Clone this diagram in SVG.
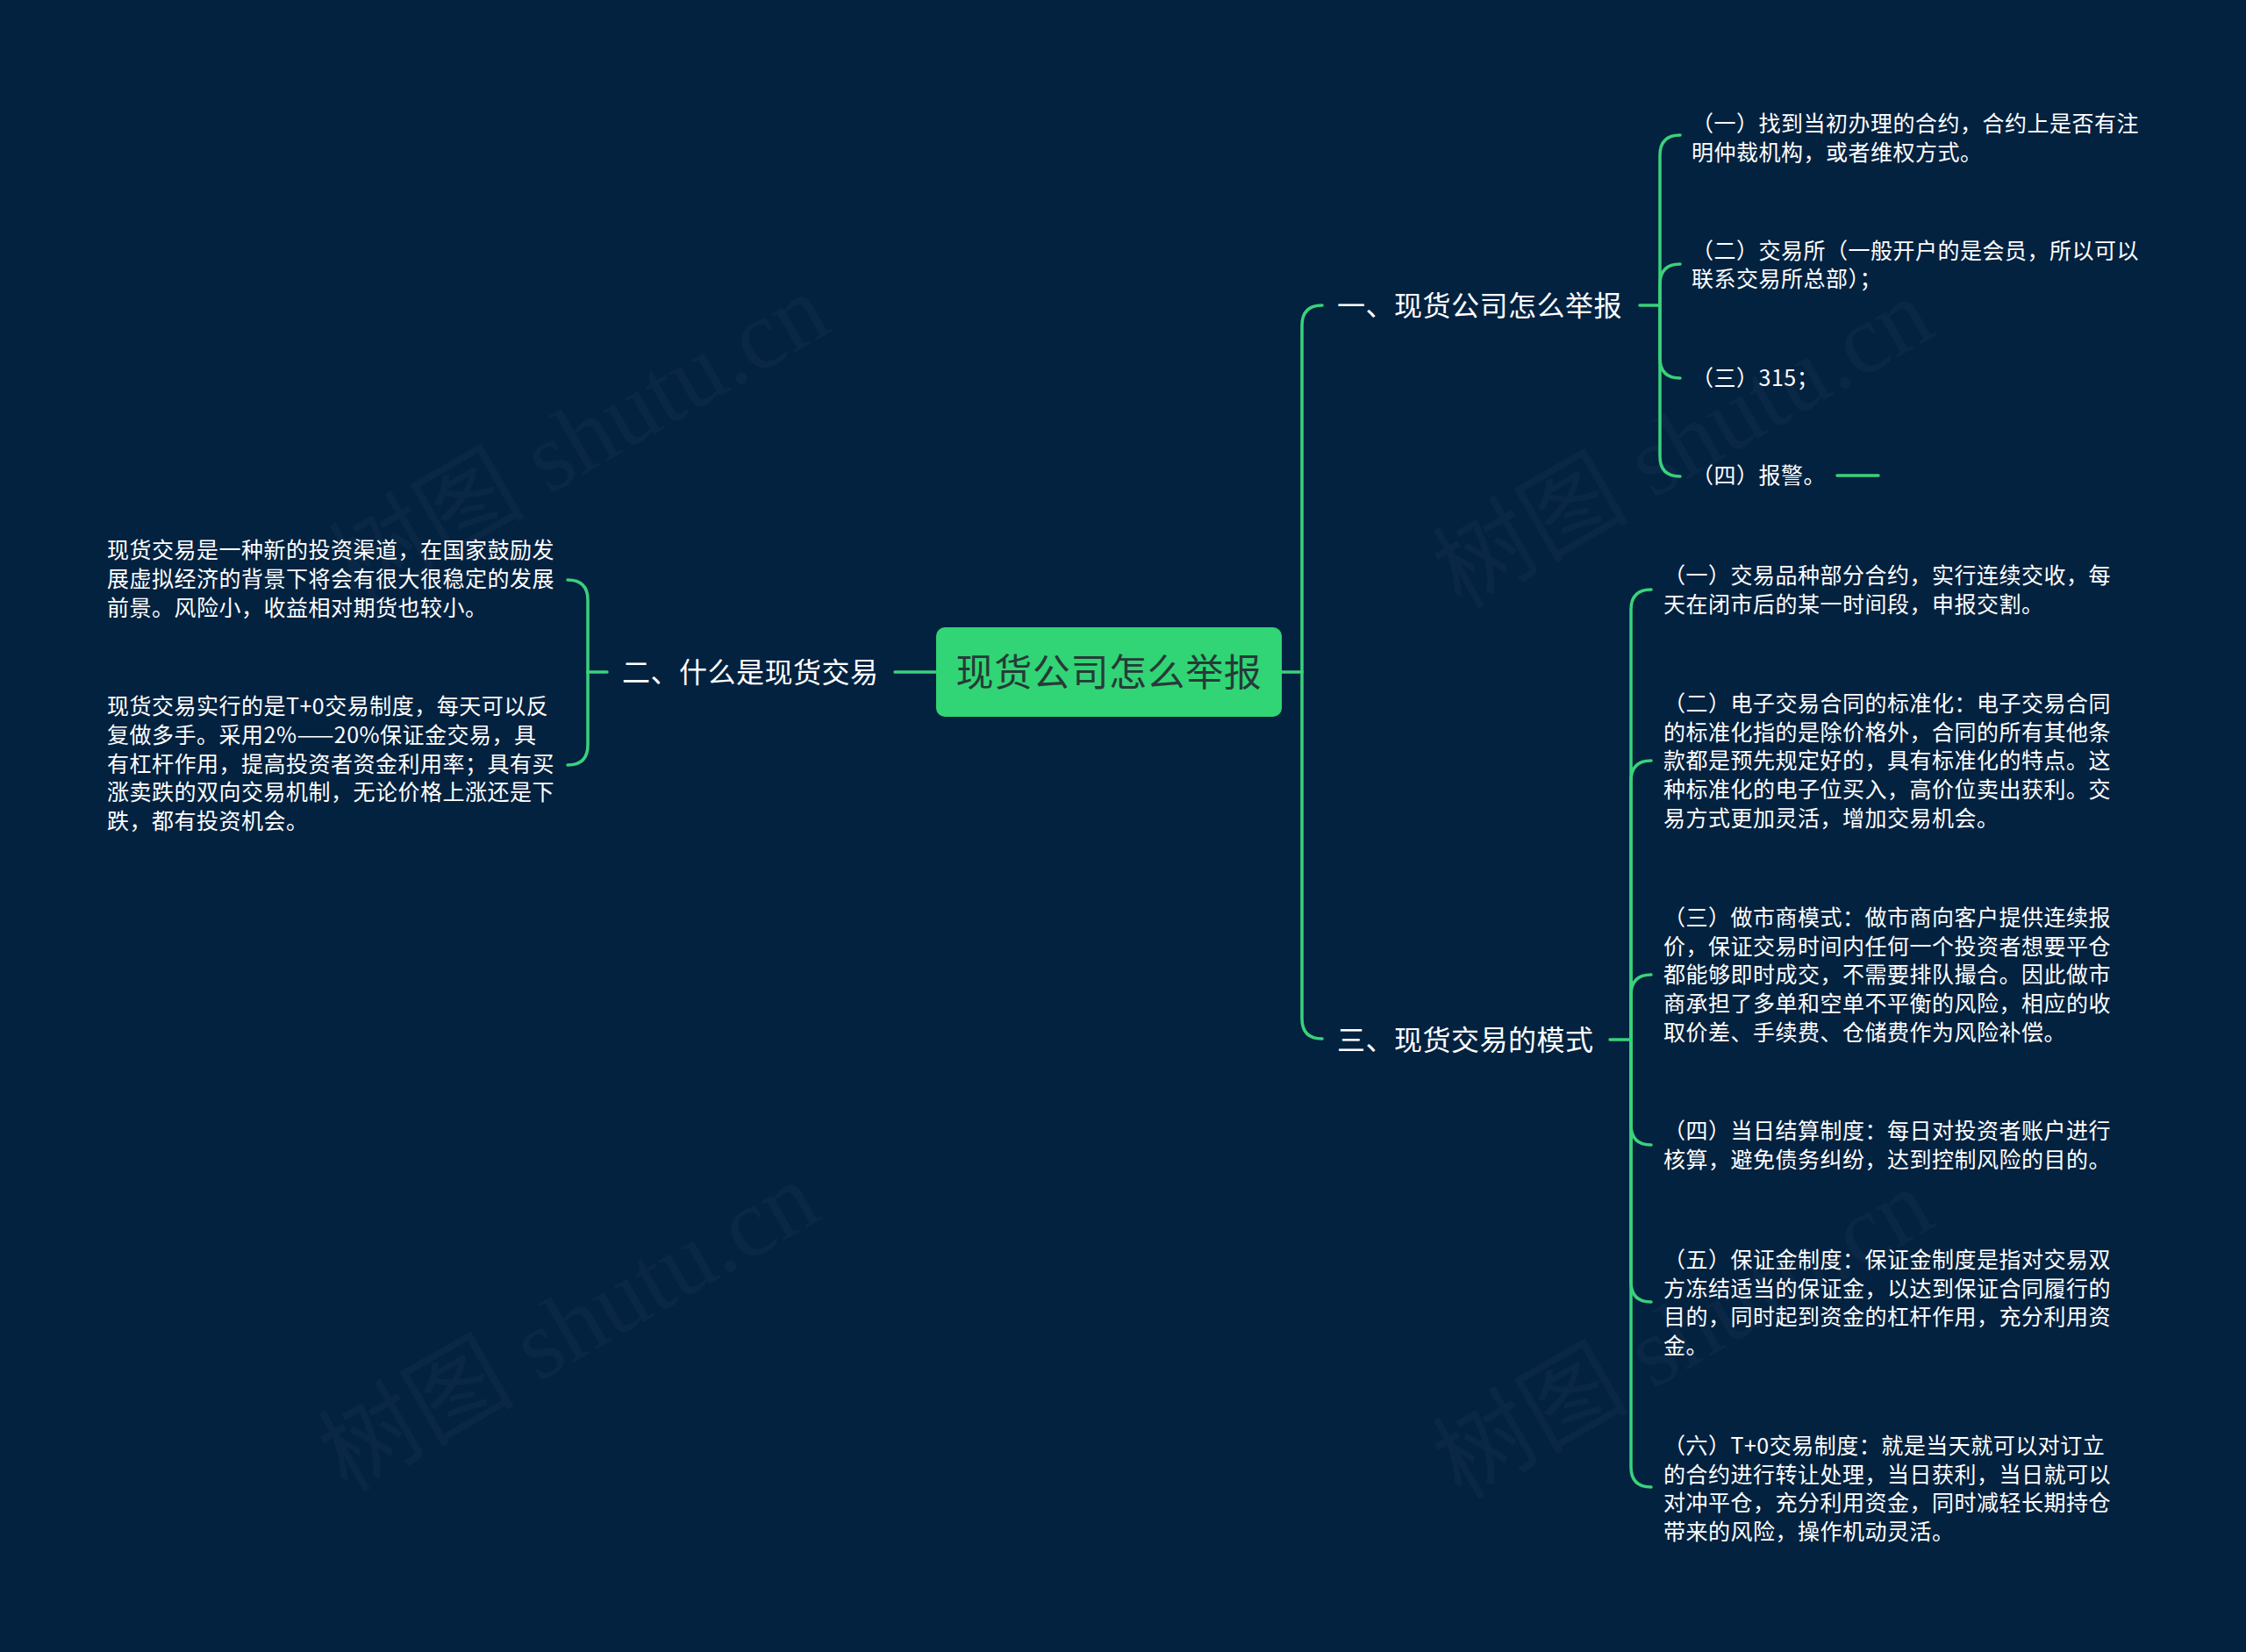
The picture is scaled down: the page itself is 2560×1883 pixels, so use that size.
<svg xmlns="http://www.w3.org/2000/svg" width="2560" height="1883" viewBox="0 0 2560 1883">
<style>
.bg{fill:#032240}
.wm{font-family:"Liberation Serif","Noto Sans CJK SC",serif;font-size:112px;fill:#ffffff;fill-opacity:0.03;text-anchor:middle;dominant-baseline:central}
.ln{fill:none;stroke:#3ad27b;stroke-width:3.5;stroke-linecap:round}
.root{fill:#31d575}
.rt{font-family:"Noto Sans CJK SC","Noto Sans",sans-serif;font-size:43px;letter-spacing:0.6px;fill:#273a38;text-anchor:middle;dominant-baseline:central}
.l1{font-family:"Noto Sans CJK SC","Noto Sans",sans-serif;font-size:32px;letter-spacing:0.5px;fill:#ffffff;dominant-baseline:central}
.t{font-family:"Noto Sans CJK SC","Noto Sans",sans-serif;font-size:25px;letter-spacing:0.5px;fill:#ffffff;dominant-baseline:central}
</style>
<rect class="bg" x="0" y="0" width="2560" height="1883"/>
<g id="watermarks">
<text class="wm" transform="translate(660,500) rotate(-30)">树图 shutu.cn</text>
<text class="wm" transform="translate(1918,505) rotate(-30)">树图 shutu.cn</text>
<text class="wm" transform="translate(648,1512) rotate(-30)">树图 shutu.cn</text>
<text class="wm" transform="translate(1918,1520) rotate(-30)">树图 shutu.cn</text>
</g>
<g id="connectors">
<path class="ln" d="M1461,766 H1484"/>
<path class="ln" d="M1484,766 V371 Q1484,348 1507,348"/>
<path class="ln" d="M1484,766 V1161 Q1484,1184 1507,1184"/>
<path class="ln" d="M1869,348 H1892"/>
<path class="ln" d="M1892,348 V177 Q1892,154 1915,154"/>
<path class="ln" d="M1892,348 V324 Q1892,301 1915,301"/>
<path class="ln" d="M1892,348 V408 Q1892,431 1915,431"/>
<path class="ln" d="M1892,348 V520 Q1892,543 1915,543"/>
<path class="ln" d="M2094,542 H2141"/>
<path class="ln" d="M1835,1185 H1859"/>
<path class="ln" d="M1859,1185 V695 Q1859,672 1882,672"/>
<path class="ln" d="M1859,1185 V890 Q1859,867 1882,867"/>
<path class="ln" d="M1859,1185 V1134 Q1859,1111 1882,1111"/>
<path class="ln" d="M1859,1185 V1282 Q1859,1305 1882,1305"/>
<path class="ln" d="M1859,1185 V1461 Q1859,1484 1882,1484"/>
<path class="ln" d="M1859,1185 V1672 Q1859,1695 1882,1695"/>
<path class="ln" d="M1067,766 H1020"/>
<path class="ln" d="M692,766 H670"/>
<path class="ln" d="M670,766 V684 Q670,661 647,661"/>
<path class="ln" d="M670,766 V849 Q670,872 647,872"/>
</g>
<g id="root">
<rect class="root" x="1067" y="715" width="394" height="102" rx="10"/>
<text class="rt" x="1264" y="763">现货公司怎么举报</text>
</g>
<g id="n1">
<text class="l1" x="1524" y="346">一、现货公司怎么举报</text>
</g>
<g id="n1-1">
<text class="t" x="1928" y="139">（一）找到当初办理的合约，合约上是否有注</text>
<text class="t" x="1928" y="172">明仲裁机构，或者维权方式。</text>
</g>
<g id="n1-2">
<text class="t" x="1928" y="284">（二）交易所（一般开户的是会员，所以可以</text>
<text class="t" x="1928" y="316">联系交易所总部）；</text>
</g>
<g id="n1-3">
<text class="t" x="1928" y="429">（三）315；</text>
</g>
<g id="n1-4">
<text class="t" x="1928" y="540">（四）报警。</text>
</g>
<g id="n2">
<text class="l1" x="709" y="764">二、什么是现货交易</text>
</g>
<g id="n2-1">
<text class="t" x="122" y="625">现货交易是一种新的投资渠道，在国家鼓励发</text>
<text class="t" x="122" y="658">展虚拟经济的背景下将会有很大很稳定的发展</text>
<text class="t" x="122" y="691">前景。风险小，收益相对期货也较小。</text>
</g>
<g id="n2-2">
<text class="t" x="122" y="803">现货交易实行的是T+0交易制度，每天可以反</text>
<text class="t" x="122" y="836">复做多手。采用2%——20%保证金交易，具</text>
<text class="t" x="122" y="869">有杠杆作用，提高投资者资金利用率；具有买</text>
<text class="t" x="122" y="901">涨卖跌的双向交易机制，无论价格上涨还是下</text>
<text class="t" x="122" y="934">跌，都有投资机会。</text>
</g>
<g id="n3">
<text class="l1" x="1524" y="1183">三、现货交易的模式</text>
</g>
<g id="n3-1">
<text class="t" x="1896" y="654">（一）交易品种部分合约，实行连续交收，每</text>
<text class="t" x="1896" y="687">天在闭市后的某一时间段，申报交割。</text>
</g>
<g id="n3-2">
<text class="t" x="1896" y="800">（二）电子交易合同的标准化：电子交易合同</text>
<text class="t" x="1896" y="833">的标准化指的是除价格外，合同的所有其他条</text>
<text class="t" x="1896" y="865">款都是预先规定好的，具有标准化的特点。这</text>
<text class="t" x="1896" y="898">种标准化的电子位买入，高价位卖出获利。交</text>
<text class="t" x="1896" y="931">易方式更加灵活，增加交易机会。</text>
</g>
<g id="n3-3">
<text class="t" x="1896" y="1044">（三）做市商模式：做市商向客户提供连续报</text>
<text class="t" x="1896" y="1077">价，保证交易时间内任何一个投资者想要平仓</text>
<text class="t" x="1896" y="1109">都能够即时成交，不需要排队撮合。因此做市</text>
<text class="t" x="1896" y="1142">商承担了多单和空单不平衡的风险，相应的收</text>
<text class="t" x="1896" y="1175">取价差、手续费、仓储费作为风险补偿。</text>
</g>
<g id="n3-4">
<text class="t" x="1896" y="1287">（四）当日结算制度：每日对投资者账户进行</text>
<text class="t" x="1896" y="1320">核算，避免债务纠纷，达到控制风险的目的。</text>
</g>
<g id="n3-5">
<text class="t" x="1896" y="1434">（五）保证金制度：保证金制度是指对交易双</text>
<text class="t" x="1896" y="1467">方冻结适当的保证金，以达到保证合同履行的</text>
<text class="t" x="1896" y="1499">目的，同时起到资金的杠杆作用，充分利用资</text>
<text class="t" x="1896" y="1532">金。</text>
</g>
<g id="n3-6">
<text class="t" x="1896" y="1646">（六）T+0交易制度：就是当天就可以对订立</text>
<text class="t" x="1896" y="1679">的合约进行转让处理，当日获利，当日就可以</text>
<text class="t" x="1896" y="1711">对冲平仓，充分利用资金，同时减轻长期持仓</text>
<text class="t" x="1896" y="1744">带来的风险，操作机动灵活。</text>
</g>
</svg>
